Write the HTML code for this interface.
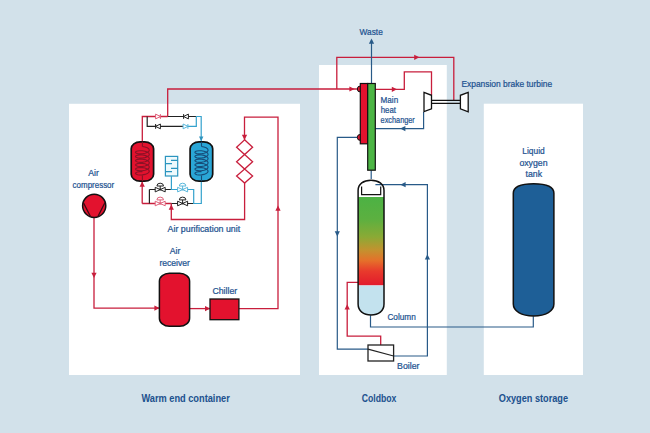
<!DOCTYPE html>
<html><head><meta charset="utf-8">
<style>
html,body{margin:0;padding:0;background:#d2e1ea;}
svg{display:block;}
text{font-family:"Liberation Sans",sans-serif;fill:#1d5290;}
.lb text{stroke:#1d5290;stroke-width:0.22px;}
</style></head>
<body>
<svg width="650" height="433" viewBox="0 0 650 433">
<defs>
<g id="gv"><path d="M-5,-2.3V2.3L5,-2.3V2.3Z" fill="#fff" stroke-width="1"/><path d="M0,0V-3.6" stroke-width="1"/><path d="M-3.3,-3.6A3.3,2.8 0 0 1 3.3,-3.6Z" fill="#fff" stroke-width="1"/><circle r="1" stroke="none"/></g>
<g id="cvR"><path d="M-2.4,-2.4V2.4L2.4,0ZM2.4,-2.4V2.4" fill="#fff" stroke-width="1"/></g>
<g id="cvL"><path d="M2.4,-2.4V2.4L-2.4,0ZM-2.4,-2.4V2.4" fill="#fff" stroke-width="1"/></g>
<linearGradient id="colg" x1="0" y1="0" x2="0" y2="1">
<stop offset="0" stop-color="#4cb244"/>
<stop offset="0.25" stop-color="#5cb040"/>
<stop offset="0.45" stop-color="#8aaa35"/>
<stop offset="0.6" stop-color="#c3922f"/>
<stop offset="0.72" stop-color="#e5702a"/>
<stop offset="0.84" stop-color="#e83a2c"/>
<stop offset="1" stop-color="#e21a2c"/>
</linearGradient>
</defs>
<rect width="650" height="433" fill="#d2e1ea"/>
<!-- containers -->
<rect x="69" y="103.8" width="231" height="271.2" fill="#fff"/>
<rect x="319" y="65" width="127.8" height="310" fill="#fff"/>
<rect x="483.8" y="103.7" width="99.2" height="271.3" fill="#fff"/>

<!-- labels -->
<g font-weight="bold" font-size="10.3" style="fill:#173f70;stroke:#173f70;stroke-width:0.05px">
<text x="141.4" y="401.9" textLength="88.4" lengthAdjust="spacingAndGlyphs">Warm end container</text>
<text x="361.8" y="401.9" textLength="34.6" lengthAdjust="spacingAndGlyphs">Coldbox</text>
<text x="498.8" y="401.7" textLength="69.2" lengthAdjust="spacingAndGlyphs">Oxygen storage</text>
</g>

<!-- red lines -->
<g fill="none" stroke="#c81e3c" stroke-width="1.3">
<path d="M167.7,116.5V89H360.3"/>
<path d="M336.8,89V57.3H453.8V100"/>
<path d="M375.3,89.3H404.3V71.8H431.5V95"/>
<path d="M94,218V308.1H159.2"/>
<path d="M189.3,308.6H210"/>
<path d="M238.9,308.6H278V117.1H244.5V140"/>
<path d="M244.6,183V219.5H171.3V203.5"/>
<path d="M244.6,139.8L252.6,147.2L244.6,154.5L236.6,147.2ZM244.6,154.5L252.6,161.8L244.6,169.1L236.6,161.8ZM244.6,169.1L252.6,176.1L244.6,183.1L236.6,176.1Z"/>
<path d="M358,282.3H347.2V336.1H380.7V345"/>
<path d="M142.2,203.5V180.7M142.3,141.3V116.5H167.7M142.2,203.5H171.5"/>
</g>
<!-- black rails -->
<g fill="none" stroke="#222" stroke-width="1.2">
<path d="M167.7,116.5H196.3M147.2,116.5V126.4H183M149.4,189.5V203.5M149.4,189.5H170.9M171.5,203.5H193.7"/>
</g>
<!-- cyan rails -->
<g fill="none" stroke="#34a2cd" stroke-width="1.2">
<path d="M196.3,116.5H201.2V141.3M196.3,116.5V126.4H183M171.4,176.3V189.5M170.9,189.5H193.7V203.5H201.3V180.7"/>
<g stroke="#2b95bf"><rect x="165.4" y="156.4" width="12.3" height="19.6" fill="#effafd"/>
<path d="M177.7,160.4H171M165.4,163.6H172M177.7,168.3H171M165.4,171.6H172"/></g>
</g>
<!-- blue lines -->
<g fill="none" stroke="#285a88" stroke-width="1.2">
<path d="M371.5,83.2V40"/>
<path d="M423.6,112V128.6H375.3"/>
<path d="M360.3,137.4H337.3V349.1H368"/>
<path d="M371.2,170.2V179"/>
<path d="M375.4,184.7H427.4V356H393.9"/>
<path d="M370.5,315.3V327H533.3V316.3"/>
</g>
<!-- arrowheads -->
<g fill="#c81e3c">
<path d="M354.6,89.0L349.4,86.4V91.6Z"/>
<path d="M419.4,57.3L414.2,54.7V59.9Z"/>
<path d="M397.0,89.3L391.8,86.7V91.9Z"/>
<path d="M94.0,278.0L91.4,272.8H96.6Z"/>
<path d="M159.6,308.1L154.4,305.5V310.7Z"/>
<path d="M210.2,308.6L205.0,306.0V311.2Z"/>
<path d="M278.0,205.6L275.4,210.8H280.6Z"/>
<path d="M244.5,140.0L241.9,134.8H247.1Z"/>
<path d="M171.3,204.6L168.7,209.8H173.9Z"/>
<path d="M142.2,181.6L139.6,186.8H144.8Z"/>
<path d="M347.2,304.2L344.6,309.4H349.8Z"/>
</g>
<g fill="#285a88">
<path d="M371.5,38.6L368.9,43.8H374.1Z"/>
<path d="M400.2,128.6L405.4,126.0V131.2Z"/>
<path d="M337.3,236.4L334.7,231.2H339.9Z"/>
<path d="M400.4,184.7L405.6,182.1V187.3Z"/>
<path d="M427.4,254.2L424.8,259.4H430.0Z"/>
</g>
<path d="M201.2,141.2L199,136.6H203.4Z" fill="#2f93bd"/>
<!-- valves -->
<use href="#gv" x="160.2" y="189.6" stroke="#222" fill="#222"/>
<use href="#gv" x="182.6" y="189.6" stroke="#5bb8dc" fill="#5bb8dc"/>
<use href="#gv" x="160.2" y="203.5" stroke="#e0607a" fill="#e0607a"/>
<use href="#gv" x="182.6" y="203.5" stroke="#222" fill="#222"/>
<use href="#cvR" x="158" y="116.5" stroke="#e0607a"/>
<use href="#cvL" x="186" y="116.5" stroke="#222"/>
<use href="#cvL" x="158" y="126.4" stroke="#222"/>
<use href="#cvR" x="185.5" y="126.4" stroke="#5bb8dc"/>

<!-- vessels -->
<rect x="131.2" y="141.8" width="22.4" height="39.4" rx="9" ry="7" fill="#e3122e" stroke="#111" stroke-width="1.7"/>
<g fill="none" stroke="#8a1226" stroke-width="1.1"><path d="M142.4,141.8V146.5M142.4,175.5V181.2"/><path d="M142.4,146.5 145.0,147.0 147.3,147.8 148.8,148.9 149.3,150.2 148.8,151.4 147.3,152.5 145.0,153.3 142.4,153.8 139.8,153.9 137.5,153.6 136.0,153.0 135.5,152.3 136.0,151.5 137.5,151.0 139.8,150.7 142.4,150.7 145.0,151.2 147.3,152.0 148.8,153.1 149.3,154.4 148.8,155.6 147.3,156.7 145.0,157.6 142.4,158.0 139.8,158.1 137.5,157.8 136.0,157.2 135.5,156.5 136.0,155.7 137.5,155.2 139.8,154.9 142.4,154.9 145.0,155.4 147.3,156.2 148.8,157.3 149.3,158.6 148.8,159.8 147.3,161.0 145.0,161.8 142.4,162.2 139.8,162.3 137.5,162.0 136.0,161.4 135.5,160.7 136.0,160.0 137.5,159.4 139.8,159.1 142.4,159.2 145.0,159.6 147.3,160.4 148.8,161.5 149.3,162.8 148.8,164.1 147.3,165.2 145.0,166.0 142.4,166.5 139.8,166.5 137.5,166.2 136.0,165.6 135.5,164.9 136.0,164.2 137.5,163.6 139.8,163.3 142.4,163.4 145.0,163.8 147.3,164.7 148.8,165.8 149.3,167.0 148.8,168.3 147.3,169.4 145.0,170.2 142.4,170.7 139.8,170.7 137.5,170.4 136.0,169.9 135.5,169.1 136.0,168.4 137.5,167.8 139.8,167.5 142.4,167.6 145.0,168.0 147.3,168.9 148.8,170.0 149.3,171.2 148.8,172.5 147.3,173.6 145.0,174.4 142.4,174.9 139.8,175.0 137.5,174.7 136.0,174.1 135.5,173.3 136.0,172.6 137.5,172.0 139.8,171.7 142.4,171.8"/></g>
<rect x="190.1" y="141.8" width="22.6" height="39.4" rx="9" ry="7" fill="#2aa6d6" stroke="#111" stroke-width="1.7"/>
<g fill="none" stroke="#174c78" stroke-width="1.1"><path d="M201.5,141.8V146.5M201.5,175.5V181.2"/><path d="M201.5,146.5 204.0,147.0 206.2,147.8 207.6,148.9 208.1,150.2 207.6,151.4 206.2,152.5 204.0,153.3 201.5,153.8 199.0,153.9 196.8,153.6 195.4,153.0 194.9,152.3 195.4,151.5 196.8,151.0 199.0,150.7 201.5,150.7 204.0,151.2 206.2,152.0 207.6,153.1 208.1,154.4 207.6,155.6 206.2,156.7 204.0,157.6 201.5,158.0 199.0,158.1 196.8,157.8 195.4,157.2 194.9,156.5 195.4,155.7 196.8,155.2 199.0,154.9 201.5,154.9 204.0,155.4 206.2,156.2 207.6,157.3 208.1,158.6 207.6,159.8 206.2,161.0 204.0,161.8 201.5,162.2 199.0,162.3 196.8,162.0 195.4,161.4 194.9,160.7 195.4,160.0 196.8,159.4 199.0,159.1 201.5,159.2 204.0,159.6 206.2,160.4 207.6,161.5 208.1,162.8 207.6,164.1 206.2,165.2 204.0,166.0 201.5,166.5 199.0,166.5 196.8,166.2 195.4,165.6 194.9,164.9 195.4,164.2 196.8,163.6 199.0,163.3 201.5,163.4 204.0,163.8 206.2,164.7 207.6,165.8 208.1,167.0 207.6,168.3 206.2,169.4 204.0,170.2 201.5,170.7 199.0,170.7 196.8,170.4 195.4,169.9 194.9,169.1 195.4,168.4 196.8,167.8 199.0,167.5 201.5,167.6 204.0,168.0 206.2,168.9 207.6,170.0 208.1,171.2 207.6,172.5 206.2,173.6 204.0,174.4 201.5,174.9 199.0,175.0 196.8,174.7 195.4,174.1 194.9,173.3 195.4,172.6 196.8,172.0 199.0,171.7 201.5,171.8"/></g>
<!-- compressor -->
<circle cx="94.2" cy="205.8" r="11.6" fill="#e3122e" stroke="#111" stroke-width="1.5"/>
<path d="M83.3,202.5L90.6,216.8M105,202.5L97.8,216.8" stroke="#3a0a12" stroke-width="1.3" fill="none"/>
<!-- receiver -->
<rect x="159.4" y="273.3" width="30.2" height="53" rx="10" ry="8" fill="#e3122e" stroke="#111" stroke-width="1.5"/>
<!-- chiller -->
<rect x="210" y="299" width="28.9" height="20.7" fill="#e3122e" stroke="#111" stroke-width="1.3"/>

<!-- HX -->
<circle cx="360.3" cy="89" r="3" fill="#e3122e" stroke="#111" stroke-width="1"/>
<circle cx="360.3" cy="137.4" r="3" fill="#e3122e" stroke="#111" stroke-width="1"/>
<rect x="360.3" y="83.5" width="7.4" height="60.3" fill="#e3122e" stroke="#111" stroke-width="1.2"/>
<rect x="367.7" y="83.5" width="7.6" height="86.7" fill="#4cb544" stroke="#111" stroke-width="1.2"/>
<!-- column -->
<rect x="358.1" y="197" width="25.9" height="88.4" fill="url(#colg)"/>
<path d="M358.1,285.4H384V304C384,311 378.5,315 371,315C363.5,315 358.1,311 358.1,304Z" fill="#c3e2ee"/>
<path d="M358.1,304V190.5C358.1,184 363.5,180.2 371,180.2C378.5,180.2 384,184 384,190.5V304C384,311 378.5,315 371,315C363.5,315 358.1,311 358.1,304Z" fill="none" stroke="#111" stroke-width="1.5"/>
<path d="M361.6,186.6V194.7H380.7V186.6" fill="none" stroke="#111" stroke-width="1.2"/>

<!-- boiler -->
<rect x="368" y="345" width="25.6" height="16" fill="#fff" stroke="#222" stroke-width="1.3"/>
<path d="M368,349.1L393.6,356" stroke="#222" stroke-width="1.1"/>

<!-- turbine -->
<path d="M424,92.4L431.5,95.3V108.8L424,111.6Z" fill="#fff" stroke="#111" stroke-width="1.3"/>
<path d="M468.2,92.4L460.4,95.3V108.8L468.2,111.8Z" fill="#fff" stroke="#111" stroke-width="1.3"/>
<path d="M431.5,100.3H460.4M431.5,103.4H460.4" stroke="#111" stroke-width="1.2"/>

<!-- tank -->
<path d="M513.3,193.3C513.3,187 521,183.8 533.6,183.8C546.2,183.8 553.9,187 553.9,193.3V304C553.9,311 546,315.9 533.6,315.9C521.2,315.9 513.3,311 513.3,304Z" fill="#1e5f97" stroke="#111" stroke-width="1.5"/>

<!-- component labels -->
<g font-size="8.6" class="lb">
<text x="88.2" y="176.3" textLength="10.6" lengthAdjust="spacingAndGlyphs">Air</text>
<text x="72.6" y="187.6" textLength="41.6" lengthAdjust="spacingAndGlyphs">compressor</text>
<text x="167.6" y="231.5" textLength="72.6" lengthAdjust="spacingAndGlyphs">Air purification unit</text>
<text x="169.8" y="254.4" textLength="10.6" lengthAdjust="spacingAndGlyphs">Air</text>
<text x="159.4" y="265.5" textLength="30.6" lengthAdjust="spacingAndGlyphs">receiver</text>
<text x="212.4" y="293.8" textLength="24.8" lengthAdjust="spacingAndGlyphs">Chiller</text>
<text x="359.6" y="34.7" textLength="23.2" lengthAdjust="spacingAndGlyphs">Waste</text>
<text x="461.4" y="86.6" textLength="90.8" lengthAdjust="spacingAndGlyphs">Expansion brake turbine</text>
<text x="380.6" y="102.7" textLength="17.6" lengthAdjust="spacingAndGlyphs">Main</text>
<text x="380.7" y="112.6" textLength="15.3" lengthAdjust="spacingAndGlyphs">heat</text>
<text x="380.6" y="122.7" textLength="34.2" lengthAdjust="spacingAndGlyphs">exchanger</text>
<text x="387.4" y="319.8" textLength="28.4" lengthAdjust="spacingAndGlyphs">Column</text>
<text x="397.1" y="368.8" textLength="22.4" lengthAdjust="spacingAndGlyphs">Boiler</text>
<text x="522.3" y="153.8" textLength="22.4" lengthAdjust="spacingAndGlyphs">Liquid</text>
<text x="519.4" y="165.8" textLength="28.2" lengthAdjust="spacingAndGlyphs">oxygen</text>
<text x="525.5" y="176.5" textLength="16.6" lengthAdjust="spacingAndGlyphs">tank</text>
</g>
</svg>
</body></html>
